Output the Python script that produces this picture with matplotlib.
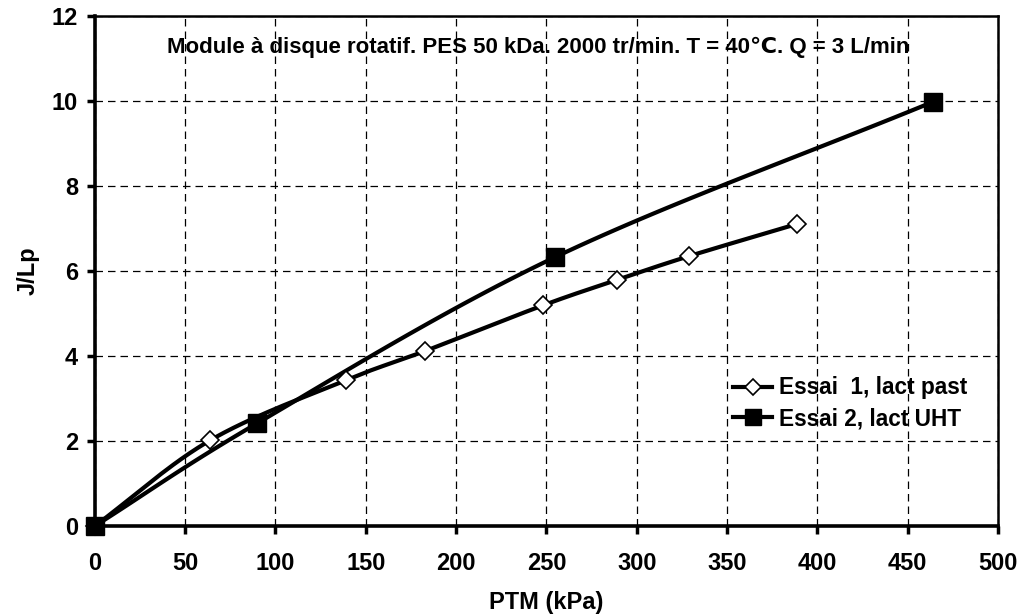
import numpy as np
import matplotlib
matplotlib.use("Agg")
import matplotlib.pyplot as plt

# Valeurs
ptm_essai1 = [0, 64, 139, 183, 248, 289, 329, 389]
jlp_essai1 = [0, 2.02, 3.43, 4.12, 5.19, 5.79, 6.35, 7.11]

ptm_essai2 = [0, 90, 255, 464]
jlp_essai2 = [0, 2.42, 6.33, 9.98]

label_essai1 = "Essai  1, lact past"
label_essai2 = "Essai 2, lact UHT"
titre = "Module à disque rotatif. PES 50 kDa. 2000 tr/min. T = 40\u2103. Q = 3 L/min"

x_ticks = [0, 50, 100, 150, 200, 250, 300, 350, 400, 450, 500]
y_ticks = [0, 2, 4, 6, 8, 10, 12]


def courbe_lissee(x, y, n=30):
    """Trace lissé façon Excel (Catmull-Rom) passant par les points mesurés."""
    x = np.asarray(x, float)
    y = np.asarray(y, float)
    px = np.concatenate([[2 * x[0] - x[1]], x, [2 * x[-1] - x[-2]]])
    py = np.concatenate([[2 * y[0] - y[1]], y, [2 * y[-1] - y[-2]]])
    xs, ys = [], []
    t = np.linspace(0, 1, n)
    for i in range(1, len(px) - 2):
        for p, out in ((px, xs), (py, ys)):
            p0, p1, p2, p3 = p[i - 1], p[i], p[i + 1], p[i + 2]
            out.extend(0.5 * ((2 * p1) + (-p0 + p2) * t
                              + (2 * p0 - 5 * p1 + 4 * p2 - p3) * t ** 2
                              + (-p0 + 3 * p1 - 3 * p2 + p3) * t ** 3))
    return xs, ys


plt.rcParams['font.family'] = ['Liberation Sans', 'DejaVu Sans']
plt.rcParams['font.weight'] = 'bold'

fig = plt.figure(figsize=(10.24, 6.16), dpi=100)
ax = fig.add_axes([0.0926, 0.1461, 0.8820, 0.8279])

# Courbes lissées
xs, ys = courbe_lissee(ptm_essai1, jlp_essai1)
ax.plot(xs, ys, color='black', lw=3, zorder=3, solid_capstyle='round')
xs, ys = courbe_lissee(ptm_essai2, jlp_essai2)
ax.plot(xs, ys, color='black', lw=3, zorder=3, solid_capstyle='round')

# Marqueurs
ax.plot(ptm_essai1, jlp_essai1, ls='none', marker='D', ms=9, mfc='white',
        mec='black', mew=1.2, zorder=4, clip_on=False)
ax.plot(ptm_essai2, jlp_essai2, ls='none', marker='s', ms=12.5, mfc='black',
        mec='black', zorder=5, clip_on=False)

# Poignées de légende
h1, = ax.plot([], [], color='black', lw=3, marker='D', ms=8, mfc='white',
              mec='black', mew=1.2, label=label_essai1)
h2, = ax.plot([], [], color='black', lw=3, marker='s', ms=11, mfc='black',
              mec='black', label=label_essai2)

ax.set_xlim(0, 500)
ax.set_ylim(0, 12)
ax.set_xticks(x_ticks)
ax.set_yticks(y_ticks)
ax.tick_params(labelsize=17, direction='out', length=6, width=2.5)
ax.tick_params(axis='x', pad=13)
ax.tick_params(axis='y', pad=6)
for lab in ax.get_xticklabels() + ax.get_yticklabels():
    lab.set_fontweight('bold')

ax.grid(True, color='black', ls=(0, (6, 4)), lw=0.9)
ax.set_axisbelow(True)

for cote in ['left', 'bottom']:
    ax.spines[cote].set_linewidth(2.6)
for cote in ['top', 'right']:
    ax.spines[cote].set_linewidth(1.8)

ax.set_xlabel("PTM (kPa)", fontsize=17, fontweight='bold', labelpad=11)
ax.set_ylabel("J/Lp", fontsize=17, fontweight='bold', labelpad=9)

ax.text(0.491, 0.939, titre, transform=ax.transAxes, ha='center', va='center',
        fontsize=16, fontweight='bold')

leg = ax.legend(handles=[h1, h2], loc='upper left', bbox_to_anchor=(0.697, 0.311),
                frameon=False, fontsize=16.3, handlelength=1.7, handletextpad=0.3,
                labelspacing=0.35, borderaxespad=0)
for t in leg.get_texts():
    t.set_fontweight('bold')

fig.savefig("out.png", dpi=100)
